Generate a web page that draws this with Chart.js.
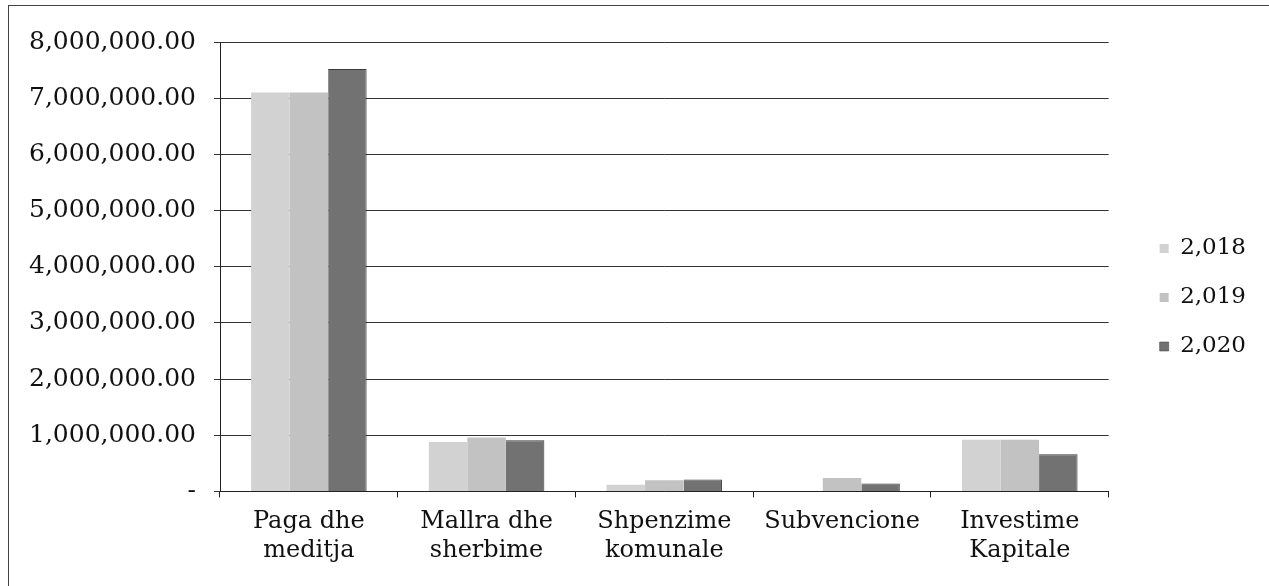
<!DOCTYPE html>
<html>
<head>
<meta charset="utf-8">
<script src="https://cdn.jsdelivr.net/npm/chart.js@4.4.1/dist/chart.umd.min.js"></script>
<style>
    html, body {
        margin: 0;
        padding: 0;
        background: #ffffff;
        overflow: hidden;
    }

    #moldura {
        position: absolute;
        left: 8px;
        top: 5px;
        width: 1400px;
        height: 700px;
        border: 1px solid #444444;
    }

    #caixa {
        position: absolute;
        left: 0;
        top: 0;
        width: 1269px;
        height: 586px;
    }
</style>
</head>
<body>

<div id="moldura"></div>
<div id="caixa">
    <canvas id="grafico" width="1269" height="586"></canvas>
</div>

<script>
const categorias = [
    ["Paga dhe", "meditja"],
    ["Mallra dhe", "sherbime"],
    ["Shpenzime", "komunale"],
    "Subvencione",
    ["Investime", "Kapitale"]
];

const anos = ["2,018", "2,019", "2,020"];

const valores2018 = [7100000, 880000, 120000, 0, 920000];
const valores2019 = [7100000, 960000, 200000, 240000, 920000];
const valores2020 = [7520000, 910000, 210000, 140000, 660000];

const ticksY = [0, 1000000, 2000000, 3000000, 4000000, 5000000, 6000000, 7000000, 8000000];

const fonte = "'DejaVu Serif', serif";

const ctx = document.getElementById("grafico").getContext("2d");

new Chart(ctx, {

    type: "bar",

    data: {
        labels: categorias,
        datasets: [
            {
                label: anos[0],
                data: valores2018,
                backgroundColor: "#d2d2d2"
            },
            {
                label: anos[1],
                data: valores2019,
                backgroundColor: "#c2c2c2"
            },
            {
                label: anos[2],
                data: valores2020,
                backgroundColor: "#727272",
                borderColor: "#3a3a3a",
                borderWidth: { right: 1, top: 1 }
            }
        ]
    },

    options: {
        responsive: false,
        animation: false,
        layout: {
            padding: { left: 13, right: 13, top: 42, bottom: 11 }
        },
        datasets: {
            bar: {
                categoryPercentage: 0.65,
                barPercentage: 1.0
            }
        },
        plugins: {
            tooltip: { enabled: false },
            legend: {
                position: "right",
                fullSize: false,
                // titulo vazio so para empurrar os itens para baixo
                title: {
                    display: true,
                    text: " ",
                    font: { family: fonte, size: 23 },
                    padding: 17
                },
                labels: {
                    color: "#111111",
                    font: { family: fonte, size: 23 },
                    boxWidth: 9,
                    boxHeight: 9,
                    padding: 26
                }
            }
        },
        scales: {
            x: {
                grid: {
                    offset: true,
                    drawOnChartArea: false,
                    drawTicks: true,
                    tickLength: 6,
                    color: "#222222"
                },
                border: { color: "#222222", width: 1 },
                ticks: {
                    color: "#111111",
                    font: { family: fonte, size: 24, lineHeight: 1.2 },
                    padding: 10,
                    maxRotation: 0
                }
            },
            y: {
                min: 0,
                max: 8000000,
                afterBuildTicks: function (eixo) {
                    eixo.ticks = ticksY.map(v => ({ value: v }));
                },
                afterFit: function (eixo) {
                    eixo.width = 207;
                },
                grid: {
                    color: "#333333",
                    tickLength: 6
                },
                border: { color: "#222222", width: 1 },
                ticks: {
                    color: "#111111",
                    font: { family: fonte, size: 25 },
                    padding: 18,
                    callback: function (valor) {
                        if (valor === 0) {
                            return "-";
                        }
                        return valor.toLocaleString("en-US", {
                            minimumFractionDigits: 2,
                            maximumFractionDigits: 2
                        });
                    }
                }
            },
            // espaco vazio entre o grafico e a legenda
            espaco: {
                type: "linear",
                position: "right",
                display: true,
                afterFit: function (eixo) {
                    eixo.width = 25;
                },
                grid: { display: false },
                border: { display: false },
                ticks: { display: false }
            }
        }
    }

});
</script>
</body>
</html>
